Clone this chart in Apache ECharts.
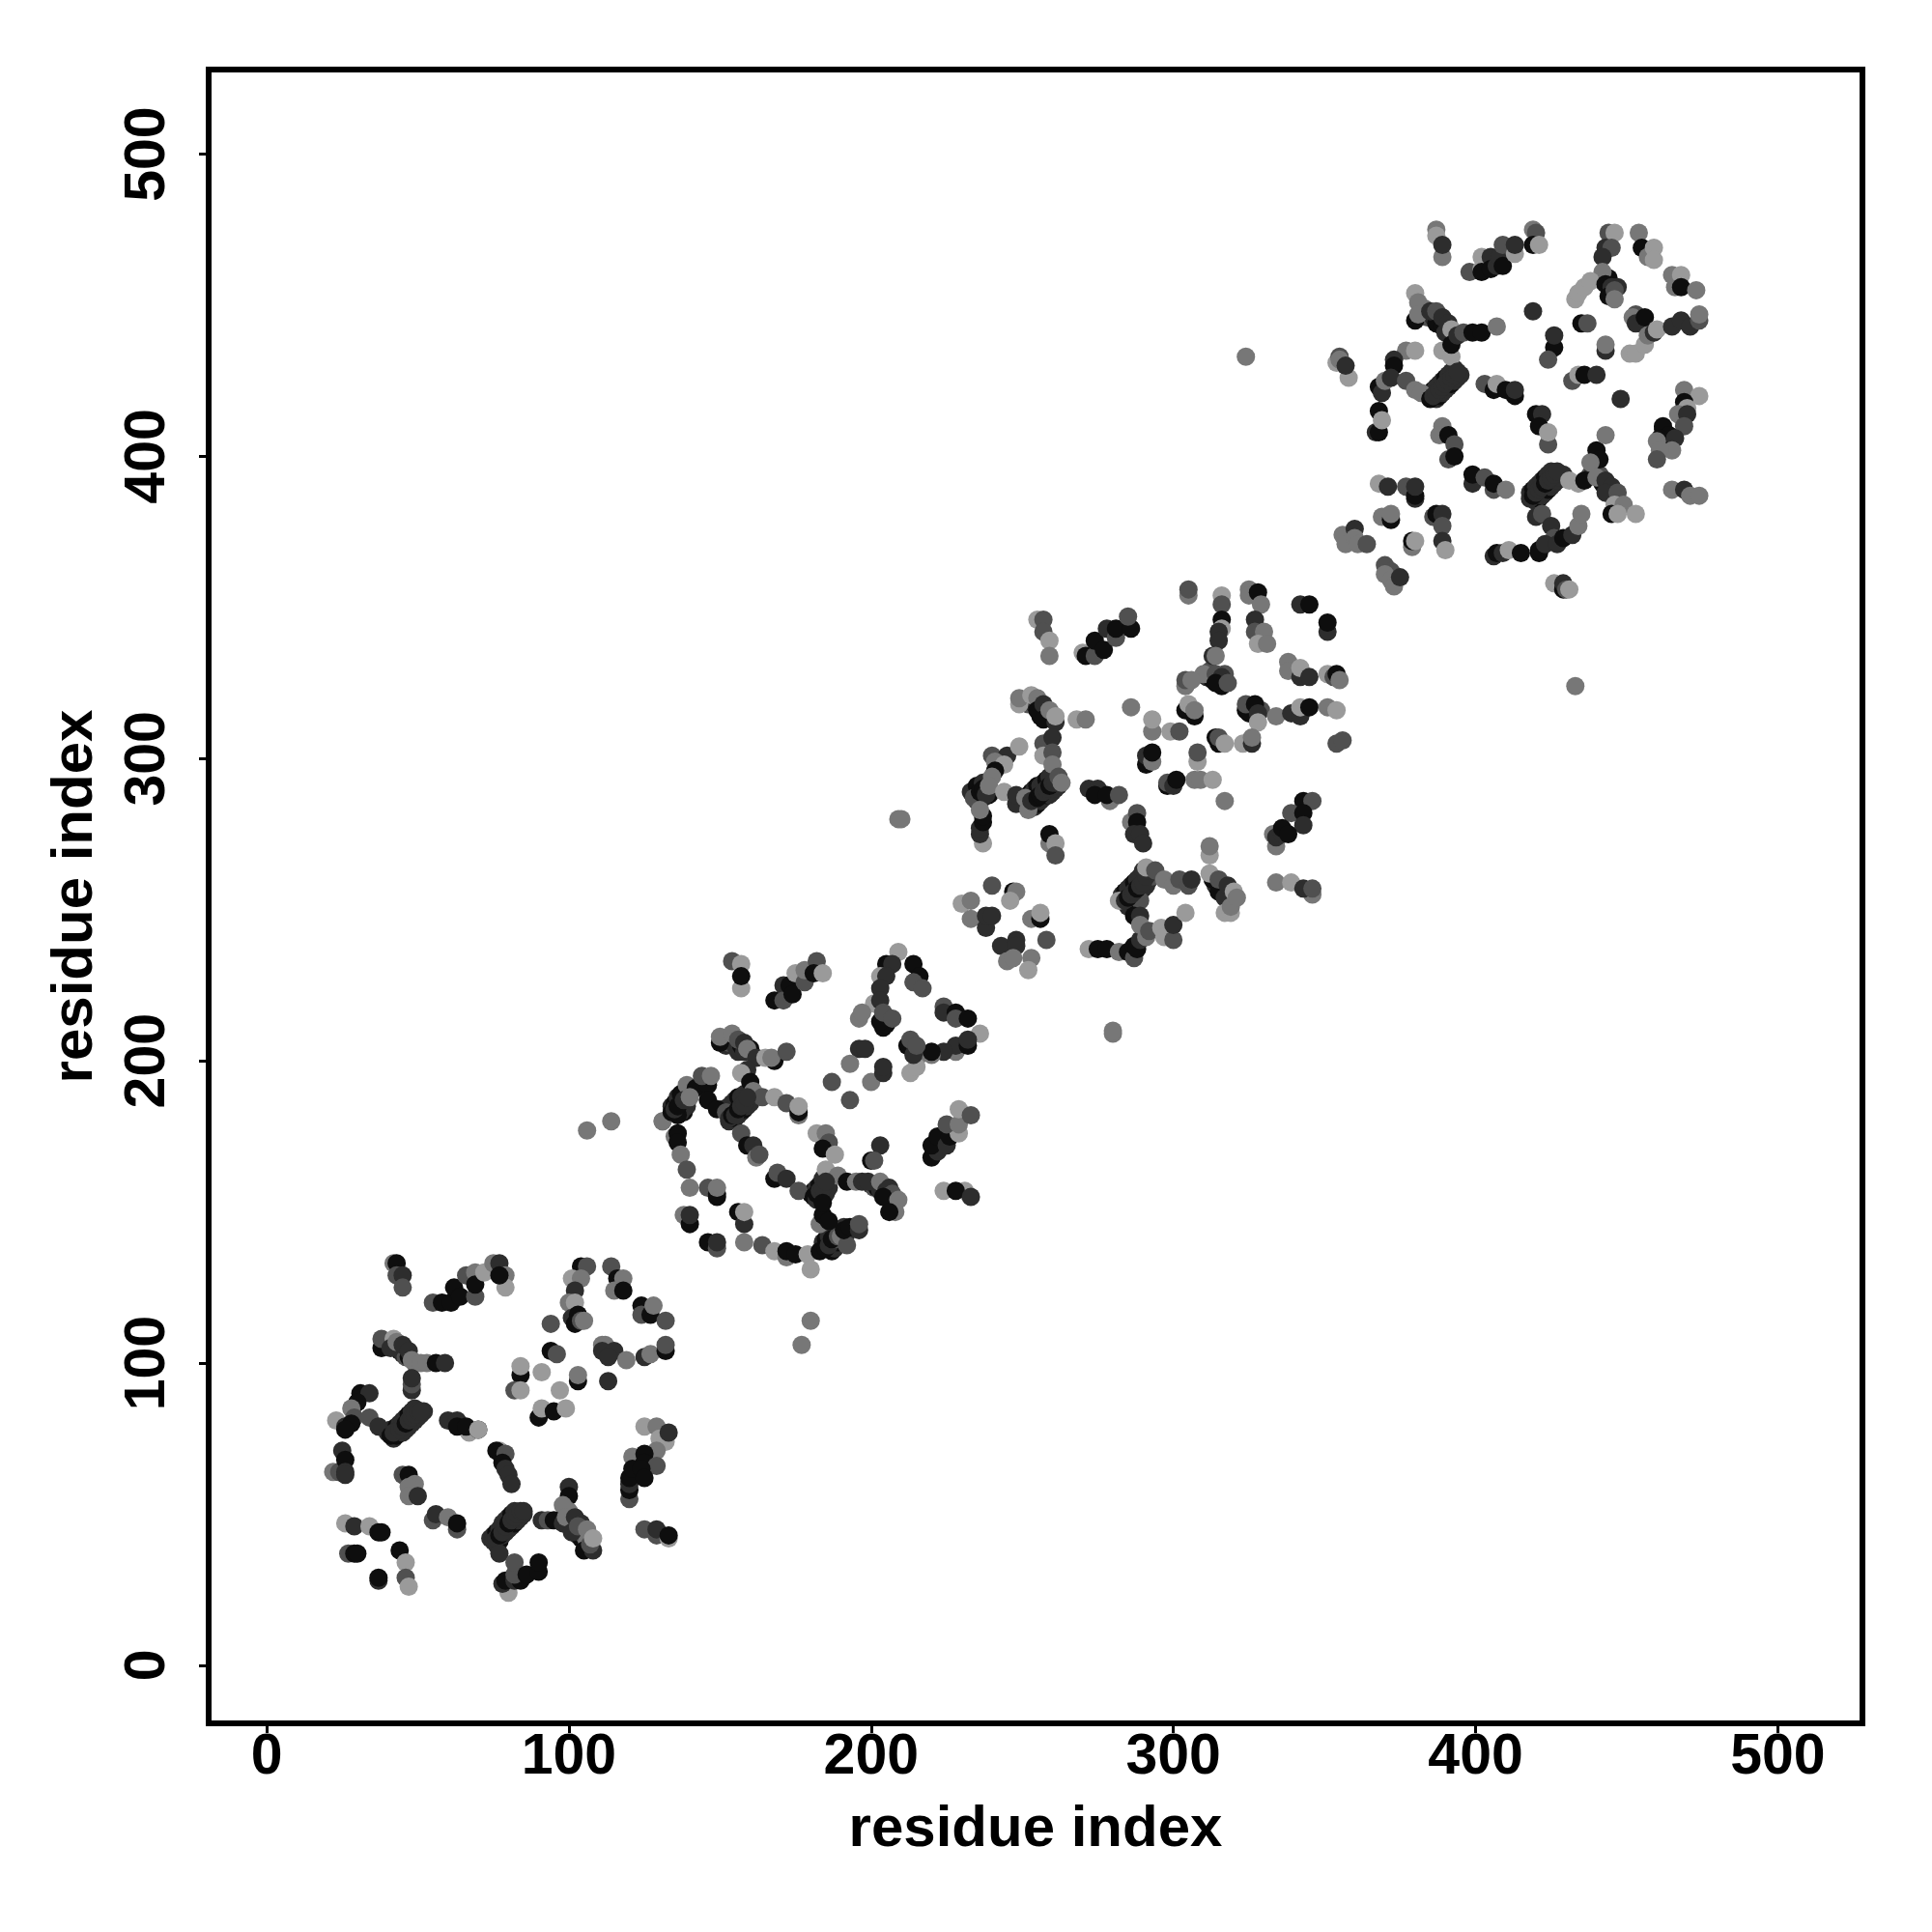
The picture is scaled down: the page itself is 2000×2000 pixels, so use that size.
<!DOCTYPE html>
<html><head><meta charset="utf-8">
<style>html,body{margin:0;padding:0;background:#fff}#c{width:2000px;height:2000px}</style>
<script src="https://cdn.jsdelivr.net/npm/echarts@6/dist/echarts.min.js"></script>
</head><body><div id="c"></div>
<script>
// [residue i, residue j, shade level]
const denseRows = [[40,77,1],[41,78,1],[43,79,0],[44,80,1],[45,81,1],[46,82,1],[47,83,0],[48,84,1],[49,85,1],[42,75,1],[43,76,0],[45,77,1],[46,78,1],[47,79,1],[48,80,1],[49,81,1],[50,82,1],[51,83,1],[52,84,1],
[74,42,1],[75,43,1],[76,44,0],[77,45,1],[78,47,1],[79,48,1],[80,49,1],[81,50,0],[82,51,1],[76,40,1],[77,41,0],[78,43,1],[79,44,1],[80,45,1],[81,46,1],[82,47,0],[83,48,1],[84,49,1],[85,50,1],
[151,184,1],[152,184,0],[153,185,1],[154,186,1],[155,187,1],[156,188,0],[157,188,1],[158,189,1],[153,180,1],[155,181,0],[156,182,1],[157,183,1],[158,184,0],[159,185,1],[160,186,1],[161,188,1],
[181,157,1],[180,156,0],[182,158,1],[183,159,0],[184,161,1],[183,154,1],[184,155,0],[185,156,1],[186,158,1],
[134,185,1],[135,186,0],[136,188,1],[137,189,0],[138,183,0],[139,185,1],[137,183,1],[136,182,0],
[184,140,1],[185,141,0],[186,142,1],[187,144,1],[187,137,0],[188,138,1],[189,140,0],[190,141,1],[192,143,1],
[252,288,1],[253,289,0],[254,290,1],[255,291,0],[256,291,1],[257,292,1],[258,293,0],[259,294,1],[254,284,1],[255,285,0],[256,286,1],[257,287,1],[258,288,0],[259,288,1],[260,289,1],[261,290,1],[262,291,1],
[233,289,1],[235,291,0],[237,292,1],[235,286,0],[237,287,1],[239,288,0],
[283,255,1],[284,256,0],[285,257,1],[286,258,1],[287,259,0],[288,260,1],[289,261,1],[290,263,1],[285,252,1],[286,253,0],[287,254,1],[288,255,1],[289,256,0],[290,257,1],[291,258,1],[292,260,1],[293,261,2],[285,251,1],[287,252,0],[289,253,2],
[311,327,1],[312,329,2],[313,326,0],[315,326,1],[317,328,2],[316,324,0],[325,317,1],[326,316,1],[325,315,0],[329,316,2],
[385,421,1],[386,422,0],[387,423,1],[388,424,1],[389,425,1],[390,426,0],[391,427,1],[392,428,1],[393,429,1],[387,419,1],[388,420,0],[389,421,1],[390,422,1],[391,423,1],[392,424,0],[393,425,1],[394,426,1],[395,427,1],
[418,388,1],[419,389,0],[420,390,1],[421,391,1],[422,392,1],[423,393,0],[424,394,1],[425,395,1],[420,385,1],[421,386,0],[422,387,1],[423,388,1],[424,389,0],[425,390,1],[426,391,1],[427,392,1],[428,393,1],[429,394,1],
[383,449,3],[384,446,2],[386,446,1],[387,444,0],[389,443,0],[390,441,1],[438,394,2],[439,395,1],[441,394,2],[442,391,0],[444,389,2],[445,387,3],[447,385,3],
[442,458,1],[444,459,0],[447,456,1],[455,444,2],[454,446,1],
[39,107,3],[41,107,2],[44,104,0],[45,103,1],[46,102,2],[47,102,0],[49,100,2],
[101,47,2],[102,45,3],[103,43,1],[104,42,0],[105,43,2],[106,41,3],
[252,318,2],[254,318,1],[256,316,1],[258,314,1],[260,313,2],[256,314,0],
[152,205,1],[153,206,2],[155,205,1],[156,203,1],[157,205,0],[158,203,1],[160,204,0],
[200,159,1],[201,158,2],[202,158,0],[203,157,1],[205,155,0],[206,154,1],[207,153,3],
[314,258,1],[316,256,2],[316,258,3],[318,255,2],[313,260,0]];

const domainA = [[42,133,3],[43,133,0],[43,129,2],[45,129,1],[45,125,2],
[55,120,2],[58,120,0],[61,120,0],[62,125,0],[64,122,0],[66,129,2],[69,122,2],[69,130,3],[69,126,0],[72,130,4],[75,133,3],[77,133,1],[79,129,3],[79,125,4],[77,129,0],
[104,132,0],[106,132,2],[101,128,4],[104,128,3],[102,124,1],[100,120,3],[102,120,4],[101,115,1],[103,116,0],[102,113,0],[104,114,2],[105,114,3],[94,113,2],
[114,132,2],[116,128,0],[118,128,3],[115,124,3],[118,124,0],
[124,119,0],[124,116,2],[127,116,0],[128,119,3],[132,114,2],
[111,106,3],[112,106,3],[111,104,1],[115,104,1],[113,102,1],[119,101,3],[125,102,1],[127,103,3],[132,104,0],[132,106,2],[113,94,1],
[94,104,0],[96,103,2],[84,96,0],[84,99,4],[91,97,4],[103,94,0],[103,96,3],[82,91,2],[84,91,4],[97,91,4],[90,82,0],[91,85,4],[95,84,0],[99,85,4],
[38,105,0],[38,108,2],[42,108,4],[41,105,1],[43,107,3],[45,106,1],[47,104,1],[48,101,3],[51,100,3],[53,100,3],[56,100,0],[59,100,1],[48,91,1],[48,93,2],[48,95,1],
[23,81,4],[31,90,0],[34,90,1],[30,87,0],[28,85,3],[29,82,2],[34,82,2],[26,79,1],[28,80,0],[26,78,0],[37,79,1],
[41,76,0],[42,77,1],[44,78,1],[45,79,1],[46,80,0],[47,81,1],[48,82,1],[49,83,1],[50,84,1],[51,84,1],
[60,81,1],[63,81,1],[67,77,4],[63,79,0],[66,79,0],[70,78,0],[70,78,4],
[77,71,4],[76,71,0],[79,70,2],[78,67,0],[79,65,1],[80,63,1],[81,60,1],
[22,64,3],[24,64,2],[25,71,1],[26,68,0],[26,64,1],[26,63,1],
[45,63,2],[47,63,0],[49,60,3],[47,59,3],[47,56,3],[50,56,1],
[55,48,2],[56,50,1],[60,49,3],[63,45,2],[63,47,0],
[26,47,4],[29,46,1],[34,46,4],[37,44,0],[38,44,0],[27,37,2],[29,37,0],[30,37,0],[44,38,0],[46,34,4],[46,29,2],[47,26,4],[37,28,1],[37,29,0],
[75,41,1],[76,42,1],[77,43,0],[78,44,1],[79,46,1],[80,47,0],[81,48,1],[82,49,1],[83,50,1],[84,51,1],[85,51,1],[77,37,1],[80,24,4],[78,27,1],[79,28,0],[82,28,1],[84,28,0],[82,30,2],[82,34,2],[86,30,0],[90,31,0],[90,34,0],
[100,59,1],[100,56,0],[100,51,3],[98,53,3],[91,48,1],[93,48,2],[95,48,0],[98,47,1],[99,49,3],[102,49,1],[101,44,1],[104,47,1],[103,46,2],[105,38,0],[108,38,1],[107,40,2],[106,45,3],[108,42,4],
[125,79,4],[129,79,3],[130,75,4],[132,74,4],[133,77,1],[129,71,3],[121,69,3],[125,70,0],[125,67,0],[129,66,2],[120,55,2],[120,58,0],[120,60,1],[120,62,0],[121,65,0],[124,65,0],[125,62,0],
[125,45,2],[129,43,2],[129,45,1],[133,42,4],[133,43,0]];

const domainB = [[154,233,2],[157,232,4],[157,224,4],[157,228,0],
[168,220,0],[171,225,1],[171,220,2],[173,225,0],[174,222,0],[175,229,4],[178,226,2],[178,230,3],[182,233,2],[181,229,0],[184,229,4],
[209,236,4],[205,232,0],[207,232,1],[203,228,4],[205,228,1],[203,224,1],[201,219,4],[203,220,1],[196,214,3],[197,216,3],[204,211,0],[205,212,0],[203,213,0],[204,216,2],[207,214,2],
[214,232,0],[216,228,0],[214,226,2],[217,224,2],
[224,218,2],[224,216,1],[228,216,0],[228,214,2],[232,214,0],[236,209,4],[228,203,3],[228,205,1],[232,205,0],[232,207,1],[224,203,1],[220,202,3],[216,202,3],[220,203,0],[213,196,4],[215,198,4],[212,205,0],[213,207,2],[214,202,1],[215,205,2],
[196,204,1],[198,204,1],[193,199,3],[187,193,2],[200,193,3],[204,196,1],[204,198,1],[193,187,2],
[150,206,0],[150,208,3],[154,209,3],[156,207,2],[158,206,1],[159,204,3],[162,201,1],[159,197,1],[157,196,4],[160,193,0],[161,190,3],[164,188,2],[168,200,0],[165,201,4],[167,201,3],[172,203,2],[168,188,4],[172,186,2],[176,182,3],[176,183,0],[176,185,4],
[139,192,3],[142,191,0],[146,192,0],[144,195,2],[147,195,3],[131,180,4],[131,180,3],[134,183,0],[135,184,1],[136,185,0],[138,187,1],[140,188,3],[146,187,0],[149,184,0],
[152,183,2],[153,181,1],[154,182,0],[155,182,1],[156,184,0],[157,185,1],[158,186,1],[159,188,1],
[135,175,3],[136,176,0],[136,173,0],[137,169,3],[139,164,2],[140,158,3],[146,158,2],[149,155,0],[149,156,0],[149,158,3],
[138,149,3],[140,146,0],[140,149,1],[156,150,0],[158,146,1],[158,150,4],[146,140,0],[149,138,2],[149,140,1],
[158,140,3],[164,139,2],[168,137,4],[172,135,3],[172,137,0],[175,136,0],[179,136,4],[180,131,4],[183,137,0],[185,138,0],[186,139,1],[188,141,2],[187,141,0],[189,142,2],[190,142,3],[191,145,1],[192,139,2],[191,144,0],[193,145,0],[196,144,1],[196,146,2],
[182,176,4],[185,176,3],[186,173,2],[184,171,0],[188,169,4],[185,164,4],[189,162,3],
[157,176,2],[159,172,0],[161,172,1],[162,168,3],[163,169,2],
[168,161,0],[169,163,2],[172,161,1],[176,157,2],
[181,155,0],[182,154,1],[182,156,0],[183,157,1],[184,158,1],[185,160,1],[183,146,3],[184,149,0],[184,153,0],[186,147,0],
[192,160,0],[195,160,3],[197,160,1],[203,172,1],[200,167,0],[201,167,2],[199,160,1],[203,160,3],[205,157,1],[206,158,1],[207,156,2],[204,155,0],[209,154,3],[208,150,3],[206,150,0],
[220,168,0],[222,170,1],[220,172,0],[222,175,0],[225,172,1],[226,175,0],[229,176,4],[225,179,2],[229,179,3],[229,184,4],[233,182,2],
[224,157,4],[231,157,4],[228,157,0],[233,155,1]];

const domainC = [[255,346,4],[257,346,2],[257,342,2],[259,339,4],[259,334,3],
[270,335,4],[271,334,0],[274,334,2],[274,339,0],[277,336,0],[278,343,1],[281,340,2],[281,343,0],[286,343,0],[285,347,2],
[305,354,3],[305,356,2],[316,354,4],[316,351,2],[316,346,0],[316,343,4],[315,342,1],[315,339,1],[313,334,1],[314,334,3],[310,328,3],[304,324,3],[304,326,2],[306,326,3],[314,328,2],[316,327,1],[314,325,0],[318,325,2],
[325,356,3],[325,354,3],[328,355,0],[329,351,3],[327,346,1],[327,342,2],[330,342,3],[328,338,4],[331,338,3],
[342,351,1],[345,351,0],[351,342,1],[351,345,0],
[338,332,3],[338,329,3],[342,327,1],[342,330,4],[345,327,1],[351,328,4],[353,327,2],[354,328,0],[355,326,3],
[324,316,0],[324,318,2],[327,318,0],[328,315,1],[334,314,3],[339,315,1],[342,314,1],[342,317,4],[345,317,0],[351,317,3],[354,316,4],
[328,312,4],[323,305,4],[326,305,1],[326,307,3],[354,305,2],[356,306,2],
[304,316,0],[305,318,4],[307,314,0],[307,316,3],
[286,317,3],[293,309,3],[293,313,4],[291,298,0],[291,301,1],[293,299,3],[293,302,0],[299,309,4],[302,309,2],
[314,307,0],[315,305,0],[315,307,2],[317,305,4],[308,299,4],[308,302,2],
[298,291,0],[298,292,2],[300,291,1],[301,293,0],[307,293,3],[309,293,3],[313,293,4],[317,286,3],
[249,318,4],[249,320,3],[253,321,4],[255,320,3],[255,316,0],[257,318,1],[257,313,0],[259,316,3],[261,312,1],[261,314,4],[268,313,4],[271,313,3],
[257,305,2],[260,307,1],[257,301,4],[260,302,2],[260,298,3],
[240,301,2],[245,301,1],[249,304,4],[241,299,3],[244,298,4],[241,296,0],[240,294,3],
[234,287,2],[236,289,0],[237,290,0],[238,288,1],[239,291,3],[244,289,4],[248,285,1],[248,288,1],[237,272,4],[236,275,1],[236,277,1],[237,279,0],[237,281,0],[236,283,3],
[251,287,3],[252,283,3],[253,286,1],[255,287,0],[256,288,0],[257,289,1],[258,290,1],[259,291,0],[260,292,1],[261,292,1],[262,294,2],[263,292,3],
[272,290,1],[275,290,1],[274,288,0],[279,286,3],[278,288,0],[282,288,2],
[286,279,3],[288,282,2],[288,279,0],[287,275,1],[289,275,1],[290,272,1],
[259,272,3],[259,275,0],[261,272,4],[261,268,2],
[240,258,2],[247,256,0],[248,256,3],[246,253,4],
[230,252,4],[233,253,3],[233,247,3],[238,244,1],[238,248,1],[240,248,1],[253,247,3],[256,247,0],[256,249,4],[258,240,2],
[243,238,1],[248,240,1],[248,238,1],[245,233,3],[247,234,3],[253,234,3],[252,230,4],
[282,253,4],[284,253,1],[285,254,0],[286,255,1],[287,256,1],[288,257,0],[289,258,1],[290,259,1],[291,261,1],[292,263,1],[291,264,4],[294,263,2],[287,248,0],[289,248,1],
[297,260,3],[300,258,3],[302,260,2],[305,258,2],[306,260,1],[312,268,4],[312,271,3],[312,262,4],[315,256,0],[317,254,1],[315,260,2],[318,258,1],[317,249,4],[319,249,4],[319,251,3],[320,256,4],[321,254,3],
[272,237,4],[275,237,0],[278,237,0],[282,236,3],[285,236,0],[287,234,2],[287,238,0],[288,237,0],[289,240,1],[291,241,3],[289,245,3],[292,243,2],[296,244,4],[297,241,4],[300,240,2],[300,245,1],[304,249,4],
[343,286,0],[346,286,2],[339,282,2],[343,282,0],[343,278,1],[333,275,3],[334,271,3],[334,274,1],[336,275,1],[336,277,0],[338,275,0],
[334,259,3],[339,259,4],[346,255,3],[343,257,1],[346,257,2]];

const domainD = [[387,475,3],[387,473,4],[389,466,3],[389,470,1],
[398,461,2],[402,466,4],[402,462,4],[402,461,0],[405,466,1],[405,462,0],[407,463,1],[408,466,1],[409,463,0],[409,470,2],[413,467,4],[413,470,1],[419,475,3],[420,474,2],[419,470,0],[421,470,4],
[444,474,2],[446,474,4],[443,469,1],[445,469,2],[442,466,1],[442,461,3],[433,452,4],[434,454,4],[436,456,4],[438,458,4],[443,457,0],[445,456,1],[444,453,0],[446,455,2],[446,452,3],
[454,474,3],[455,469,0],[457,466,3],[459,469,4],[459,465,4],
[465,460,3],[466,456,3],[468,460,4],[468,456,0],[473,455,3],
[453,447,2],[452,446,3],[453,444,1],[456,446,0],[451,434,4],[453,434,4],[456,437,4],[457,440,3],[459,441,1],[460,442,4],[465,443,1],[468,445,1],[471,443,1],[474,445,2],[474,447,3],
[419,448,1],[435,444,0],[437,444,2],[426,436,0],[426,440,1],[424,432,2],[443,435,1],[443,437,3],[432,425,2],[434,427,4],[436,427,0],[440,427,1],[448,419,1],
[380,454,4],[381,451,3],[380,445,0],[381,447,3],[385,448,1],[387,448,2],[389,446,1],[391,444,1],[392,442,4],[389,435,4],[392,433,4],[392,437,0],[394,440,1],[396,441,2],[399,441,0],[402,441,0],[407,443,3],
[354,431,4],[355,433,2],[358,426,4],[355,432,3],[357,430,1],
[377,435,3],[380,435,4],[373,432,1],[373,430,0],[368,423,0],[369,421,1],[370,425,3],[372,426,1],[377,425,2],[380,422,3],[382,421,3],
[385,419,0],[386,420,1],[387,421,1],[388,422,1],[389,423,1],[390,424,1],[391,425,1],[392,426,1],[393,427,1],[394,428,1],
[368,415,0],[367,408,1],[368,408,0],[369,412,4],
[403,424,2],[406,422,0],[407,424,4],[410,422,0],[413,420,0],[413,422,1],
[420,414,0],[422,414,1],[421,410,0],[424,404,2],[424,408,4],
[389,410,3],[388,407,3],[391,407,0],[393,404,2],[391,399,2],[393,400,0],
[399,391,1],[399,394,0],[403,393,2],[406,389,2],[406,391,0],[410,389,3],
[418,386,1],[419,387,0],[420,388,1],[421,389,1],[422,390,1],[423,391,0],[424,392,1],[425,393,1],[426,394,1],[427,395,1],
[420,380,1],[422,381,2],[425,377,1],[426,373,2],[421,368,0],[421,369,0],[423,371,1],[427,371,1],[429,373,0],[432,374,1],[434,377,3],[435,381,3],
[406,367,1],[407,368,0],[409,368,1],[411,369,4],[415,368,0],
[369,380,3],[372,379,0],[372,381,3],[386,380,2],[387,381,0],[389,381,1],[389,377,2],[389,372,1],[390,369,4],[379,370,3],[379,372,0],[380,372,4],
[368,391,4],[371,390,1],[377,390,2],[380,386,1],[380,387,0],[380,390,1],
[356,374,3],[357,371,3],[360,376,1],[360,373,3],[361,371,3],[364,371,2],
[370,364,2],[372,362,2],[370,361,3],[372,359,3],[373,357,3],[375,360,1],
[426,358,4],[429,356,0],[429,358,1],[430,356,2],[431,356,4],
[431,392,4],[434,391,4],[436,392,0],[440,402,0],[441,399,0],[443,407,3],[438,398,3],[440,393,3],[443,392,1],[445,390,1],[443,388,1],[447,388,2],[446,384,4],[449,384,3],[445,381,0],[447,381,4],[453,381,4],
[469,422,3],[474,420,4],[469,418,0],[470,416,4],[467,414,3],[470,414,1],[469,410,2],[462,409,1],[462,410,0],[464,407,0],[461,406,0],[466,406,1],[460,405,3],[465,402,3],[461,402,3],[460,399,2],
[465,389,3],[469,389,1],[471,387,3],[474,387,3]];

const outliers = [[324,433,3],[433,324,3],[209,280,3],[210,280,3],[280,209,3],[280,210,3],[106,177,3],[114,180,3],[180,114,3],[177,106,3]];

const shadeColors = ['#0e0e0e','#2d2d2d','#505050','#777777','#9a9a9a'];
const tickValues = [0,100,200,300,400,500];
const axisTitle = 'residue index';
const axisMin = -19.2, axisMax = 528;

const points = [...denseRows, ...domainA, ...domainB, ...domainC, ...domainD, ...outliers];
const font = 'Liberation Sans';
function axis(extra){
  return Object.assign({
    type:'value', min:axisMin, max:axisMax, name:axisTitle, nameLocation:'middle',
    nameTextStyle:{fontFamily:font,fontWeight:'bold',fontSize:60,color:'#000'},
    axisLine:{show:false,onZero:false},
    splitLine:{show:false},
    axisTick:{show:true,length:10,customValues:tickValues,lineStyle:{color:'#000',width:3}},
    axisLabel:{fontFamily:font,fontWeight:'bold',fontSize:59,color:'#000',customValues:tickValues,showMinLabel:true,showMaxLabel:true,hideOverlap:false}
  },extra);
}
const chart = echarts.init(document.getElementById('c'),null,{renderer:'canvas'});
const xa = axis({nameGap:80});
xa.axisLabel.margin = 6;
const ya = axis({nameGap:108,nameRotate:90});
ya.axisLabel.rotate = 90;
ya.axisLabel.margin = 33;
chart.setOption({
  animation:false, backgroundColor:'#fff',
  grid:{show:true,left:216,top:72,width:1712,height:1712,borderColor:'#000',borderWidth:6,backgroundColor:'transparent',containLabel:false},
  xAxis:xa, yAxis:ya,
  series:[{type:'scatter',data:points,symbol:'circle',symbolSize:19,clip:true,
    encode:{x:0,y:1},
    itemStyle:{color:p=>shadeColors[p.value[2]],opacity:1},
    emphasis:{disabled:true},z:3}]
});
</script></body></html>
